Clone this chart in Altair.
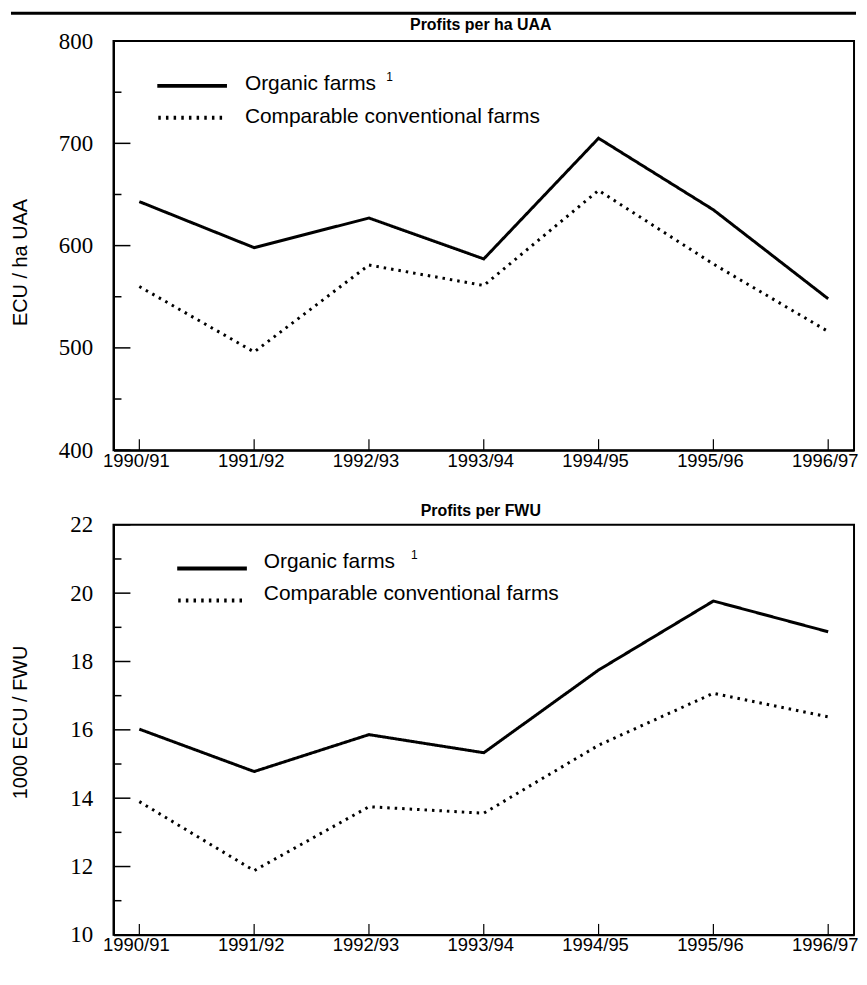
import altair as alt
import pandas as pd

seasons = ["1990/91", "1991/92", "1992/93", "1993/94", "1994/95", "1995/96", "1996/97"]
series_names = ["Organic farms", "Comparable conventional farms"]

uaa_organic = [643, 598, 627, 587, 705, 635, 548]
uaa_conventional = [560, 496, 581, 561, 654, 582, 516]
uaa_major = [400, 500, 600, 700, 800]
uaa_minor = [450, 550, 650, 750]

fwu_organic = [16.02, 14.78, 15.86, 15.33, 17.75, 19.77, 18.87]
fwu_conventional = [13.9, 11.88, 13.75, 13.56, 15.55, 17.07, 16.38]
fwu_major = [10, 12, 14, 16, 18, 20, 22]
fwu_minor = [11, 13, 15, 17, 19, 21]

W = 744
H_TOP = 411
H_BOT = 412

xscale = alt.Scale(type="point", domain=seasons, padding=0.225)
dash_scale = alt.Scale(domain=series_names, range=[[1, 0], [2.5, 5]])


def long_df(a, b):
    rows = []
    for s, v in zip(seasons, a):
        rows.append({"season": s, "value": v, "series": series_names[0]})
    for s, v in zip(seasons, b):
        rows.append({"season": s, "value": v, "series": series_names[1]})
    return pd.DataFrame(rows)


def panel(org, conv, major, minor, title, ytitle, H, leg_x, leg_text_x, leg_y, txt_y, sup_x, sup_y,
          title_y, head_y, top_rule=False):
    dom = [major[0], major[-1]]
    yscale = alt.Scale(domain=dom, nice=False, zero=False)
    df = long_df(org, conv)
    lines = alt.Chart(df).mark_line(color="black", strokeWidth=3, strokeCap="butt").encode(
        x=alt.X("season:N", scale=xscale, sort=seasons,
                axis=alt.Axis(title=None, ticks=False, labelPadding=1, labelFontSize=18.5,
                              labelOffset=-3.5,
                              labelFont="Liberation Sans", labelColor="black", domainColor="black",
                              domainWidth=2, grid=False, labelAngle=0)),
        y=alt.Y("value:Q", scale=yscale,
                axis=alt.Axis(title=ytitle, values=major, ticks=False, labelPadding=21,
                              labelFontSize=23, labelFont="Liberation Serif", labelColor="black",
                              domainColor="black", domainWidth=2, grid=False,
                              titleFont="Liberation Sans", titleFontSize=20, titleFontWeight="normal",
                              titleColor="black", titleX=-93, titleY=title_y,
                              titleAngle=270, titleAlign="center", titleBaseline="middle")),
        strokeDash=alt.StrokeDash("series:N", scale=dash_scale, legend=None),
        detail="series:N",
    )
    major_ticks = alt.Chart(pd.DataFrame({"value": major})).mark_rule(color="black", strokeWidth=1.5).encode(
        x=alt.value(0), x2=alt.value(17), y=alt.Y("value:Q", scale=yscale))
    minor_ticks = alt.Chart(pd.DataFrame({"value": minor})).mark_rule(color="black", strokeWidth=1.5).encode(
        x=alt.value(0), x2=alt.value(8), y=alt.Y("value:Q", scale=yscale))
    x_ticks = alt.Chart(pd.DataFrame({"season": seasons})).mark_rule(color="black", strokeWidth=1.2).encode(
        x=alt.X("season:N", scale=xscale, sort=seasons),
        y=alt.value(H - 11), y2=alt.value(H))
    one = pd.DataFrame({"k": [0]})
    leg_solid = alt.Chart(one).mark_rule(color="black", strokeWidth=4).encode(
        x=alt.value(leg_x), x2=alt.value(leg_x + 70), y=alt.value(leg_y))
    leg_dot = alt.Chart(one).mark_rule(color="black", strokeWidth=4, strokeDash=[2.5, 5.2]).encode(
        x=alt.value(leg_x + 1), x2=alt.value(leg_x + 70), y=alt.value(leg_y + 32))
    t1 = alt.Chart(one).mark_text(text=series_names[0], align="left", baseline="middle",
                                  fontSize=21, font="Liberation Sans", color="black").encode(
        x=alt.value(leg_text_x), y=alt.value(txt_y))
    t2 = alt.Chart(one).mark_text(text=series_names[1], align="left", baseline="middle",
                                  fontSize=21, font="Liberation Sans", color="black").encode(
        x=alt.value(leg_text_x), y=alt.value(txt_y + 33))
    sup = alt.Chart(one).mark_text(text="1", align="left", baseline="middle",
                                   fontSize=12, font="Liberation Sans", color="black").encode(
        x=alt.value(sup_x), y=alt.value(sup_y))
    head = alt.Chart(one).mark_text(text=title, align="center", baseline="middle", fontSize=16,
                                    fontWeight="bold", font="Liberation Sans", color="black").encode(
        x=alt.value(W / 2 - 3), y=alt.value(head_y))
    layers = [lines, major_ticks, minor_ticks, x_ticks, leg_solid, leg_dot, t1, t2, sup, head]
    if top_rule:
        layers.append(alt.Chart(one).mark_rule(color="black", strokeWidth=3).encode(
            x=alt.value(-103), x2=alt.value(W + 2), y=alt.value(-28)))
    return alt.layer(*layers).properties(width=W, height=H)


top = panel(uaa_organic, uaa_conventional, uaa_major, uaa_minor, "Profits per ha UAA", "ECU / ha UAA",
            H_TOP, 44, 132, 45, 43, 274, 36, 222, -16, top_rule=True)
bot = panel(fwu_organic, fwu_conventional, fwu_major, fwu_minor, "Profits per FWU", "1000 ECU / FWU",
            H_BOT, 64, 151, 44, 37, 299, 30, 198, -14)

chart = alt.vconcat(top, bot, spacing=31).resolve_scale(y="independent").properties(
    padding={"left": 0, "top": 0, "right": 0, "bottom": 0}, background="white"
).configure_view(stroke="black", strokeWidth=2)

chart.save("out.html", embed_options={"renderer": "svg", "actions": False})
